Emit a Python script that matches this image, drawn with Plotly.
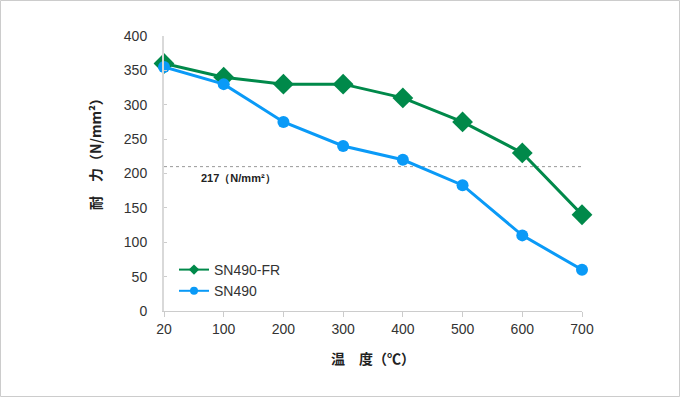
import plotly.graph_objects as go

temps = ["20", "100", "200", "300", "400", "500", "600", "700"]
sn490fr = [360, 340, 330, 330, 310, 275, 230, 140]
sn490 = [355, 330, 275, 240, 220, 183, 110, 60]
ref_value = 210
ref_label = "<b>217（N/mm²）</b>"
y_ticks = [0, 50, 100, 150, 200, 250, 300, 350, 400]

W, H = 680, 397
L, R, T, B = 164, 98, 36, 86
pw, ph = W - L - R, H - T - B

green = "#00894A"
blue = "#0A9AF7"
font = "Liberation Sans, Arial, sans-serif"

fig = go.Figure()
fig.add_trace(go.Scatter(x=temps, y=sn490fr, name="SN490-FR", mode="lines+markers",
                         line=dict(color=green, width=3), showlegend=False, cliponaxis=False,
                         marker=dict(symbol="diamond", size=16, color=green)))
fig.add_trace(go.Scatter(x=temps, y=sn490, name="SN490", mode="lines+markers",
                         line=dict(color=blue, width=3), showlegend=False, cliponaxis=False,
                         marker=dict(symbol="circle", size=12, color=blue)))
# legend entries with small symbols
fig.add_trace(go.Scatter(x=[None], y=[None], name="SN490-FR", mode="lines+markers",
                         line=dict(color=green, width=2),
                         marker=dict(symbol="diamond", size=8, color=green)))
fig.add_trace(go.Scatter(x=[None], y=[None], name="SN490", mode="lines+markers",
                         line=dict(color=blue, width=2),
                         marker=dict(symbol="circle", size=8, color=blue)))

fig.add_shape(type="line", xref="x", yref="y", x0=0, x1=7, y0=ref_value, y1=ref_value,
              line=dict(color="#999999", width=1, dash="dot"), layer="below")
fig.add_annotation(x=(199 - L) / pw, xref="paper", y=ref_value - 5, yref="y",
                   text=ref_label, showarrow=False, xanchor="left", yanchor="top",
                   font=dict(family=font, size=11, color="#222222"))

# outer border
fig.add_shape(type="rect", xref="paper", yref="paper",
              x0=(0.5 - L) / pw, x1=(W - 0.5 - L) / pw,
              y0=-(B - 0.5) / ph, y1=1 + (T - 0.5) / ph,
              line=dict(color="#CCCCCC", width=1))

fig.add_annotation(x=(95 - L) / pw, xref="paper", y=(311 - 151) / ph, yref="paper",
                   xanchor="center", yanchor="middle",
                   text="<b>耐　力（N/mm²）</b>", textangle=-90, showarrow=False,
                   font=dict(family="Noto Sans CJK JP", size=14, color="#222222"))
fig.add_annotation(x=(373 - L) / pw, xref="paper", y=-(358 - 311) / ph, yref="paper",
                   xanchor="center", yanchor="middle",
                   text="<b>温　度（℃）</b>", showarrow=False,
                   font=dict(family="Noto Sans CJK JP", size=14, color="#222222"))

fig.update_layout(
    width=W, height=H,
    margin=dict(l=L, r=R, t=T, b=B),
    paper_bgcolor="white", plot_bgcolor="white",
    font=dict(family=font, size=14, color="#333333"),
    showlegend=True,
    legend=dict(x=(174 - L) / pw, y=(311 - 254) / ph, xanchor="left", yanchor="top",
                bgcolor="rgba(0,0,0,0)", font=dict(size=14, color="#333333"),
                itemwidth=30, tracegroupgap=0),
    xaxis=dict(type="category", range=[0, 7], showline=True, linecolor="#CCCCCC", linewidth=1,
               ticks="outside", tickcolor="#CCCCCC", ticklen=5, showgrid=False, zeroline=False,
               tickfont=dict(size=14, color="#333333")),
    yaxis=dict(range=[0, 400], tickvals=y_ticks, showline=True, linecolor="#D9D9D9", linewidth=2,
               ticks="inside", tickcolor="#CCCCCC", ticklen=3, showgrid=False, zeroline=False,
               ticklabelstandoff=12, tickfont=dict(size=14, color="#333333")),
)

fig.write_html("out.html", config={"displayModeBar": False},
               post_script="document.body.style.margin='0px';")
